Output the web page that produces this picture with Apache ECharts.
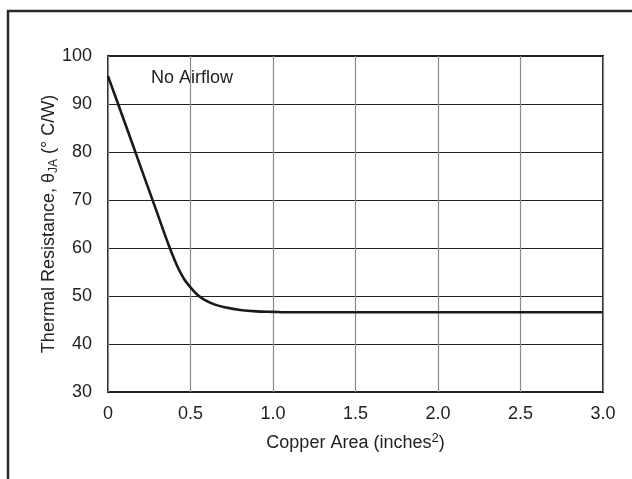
<!DOCTYPE html>
<html>
<head>
<meta charset="utf-8">
<script src="https://cdn.jsdelivr.net/npm/echarts@6/dist/echarts.min.js"></script>
<style>
  html, body { margin: 0; padding: 0; background: #fff; }
  #chart { width: 632px; height: 479px; }
</style>
</head>
<body>
<div id="chart"></div>
<script>
// copper area (inches^2) vs thermal resistance (°C/W)
const copperArea = [0, 0.1, 0.2, 0.3, 0.37, 0.42, 0.46, 0.5, 0.54, 0.58, 0.64, 0.7, 0.8, 0.9, 1.0, 1.1, 1.5, 2.0, 2.5, 3.0]
const thetaJA = [95.8, 86.3, 76.7, 67.1, 60.4, 56.2, 53.6, 51.8, 50.3, 49.3, 48.3, 47.7, 47.1, 46.8, 46.7, 46.6, 46.6, 46.6, 46.6, 46.6]
const xTicks = [0, 0.5, 1.0, 1.5, 2.0, 2.5, 3.0]
const yTicks = [30, 40, 50, 60, 70, 80, 90, 100]
const noteText = 'No Airflow'

const font = '"Liberation Sans", Arial, Helvetica, sans-serif'
const ink = '#222'

const chart = echarts.init(document.getElementById('chart'))
const points = copperArea.map((x, i) => [x, thetaJA[i]])

const option = {
    animation: false,
    backgroundColor: '#fff',
    textStyle: { fontFamily: font },
    grid: {
        left: 108, right: 29, top: 56, bottom: 87,
        show: true,
        borderColor: ink,
        borderWidth: 2,
        backgroundColor: 'transparent'
    },
    xAxis: {
        type: 'value',
        min: xTicks[0],
        max: xTicks[xTicks.length - 1],
        interval: 0.5,
        axisLine: { show: false },
        axisTick: { show: false },
        axisLabel: {
            margin: 13,
            fontSize: 18,
            color: ink,
            fontFamily: font,
            formatter: v => (v === 0 ? '0' : v.toFixed(1))
        },
        splitLine: { show: true, lineStyle: { color: '#8a8a8a', width: 1.2 } },
        name: '{t|Copper Area (inches}{sup|2}{t|)}',
        nameLocation: 'middle',
        nameGap: 40,
        nameMoveOverlap: false,
        nameTextStyle: {
            rich: {
                t: { fontSize: 18, color: ink, fontFamily: font, lineHeight: 22 },
                sup: { fontSize: 13, color: ink, fontFamily: font, verticalAlign: 'top', lineHeight: 16 }
            }
        }
    },
    yAxis: {
        type: 'value',
        min: yTicks[0],
        max: yTicks[yTicks.length - 1],
        interval: 10,
        axisLine: { show: false },
        axisTick: { show: false },
        axisLabel: { margin: 16, fontSize: 18, color: ink, fontFamily: font },
        splitLine: { show: true, lineStyle: { color: ink, width: 1 } },
        name: '{t|Thermal Resistance, θ}{sub|JA}{t| (° C/W)}',
        nameLocation: 'middle',
        nameRotate: 90,
        nameGap: 48,
        nameMoveOverlap: false,
        nameTextStyle: {
            rich: {
                t: { fontSize: 18, color: ink, fontFamily: font, lineHeight: 22 },
                sub: { fontSize: 12, color: ink, fontFamily: font, verticalAlign: 'bottom', lineHeight: 14 }
            }
        }
    },
    graphic: [
        {
            type: 'rect',
            shape: { x: 8, y: 11, width: 700, height: 600 },
            style: { fill: 'none', stroke: '#2a2a2a', lineWidth: 2.5 },
            silent: true
        },
        {
            type: 'text',
            left: 151,
            top: 69,
            style: { text: noteText, fontSize: 18, fill: ink, fontFamily: font }
        }
    ],
    series: [
        {
            type: 'line',
            data: points,
            smooth: 0.3,
            showSymbol: false,
            lineStyle: { color: '#1a1a1a', width: 2.6 }
        }
    ]
}
chart.setOption(option)
</script>
</body>
</html>
